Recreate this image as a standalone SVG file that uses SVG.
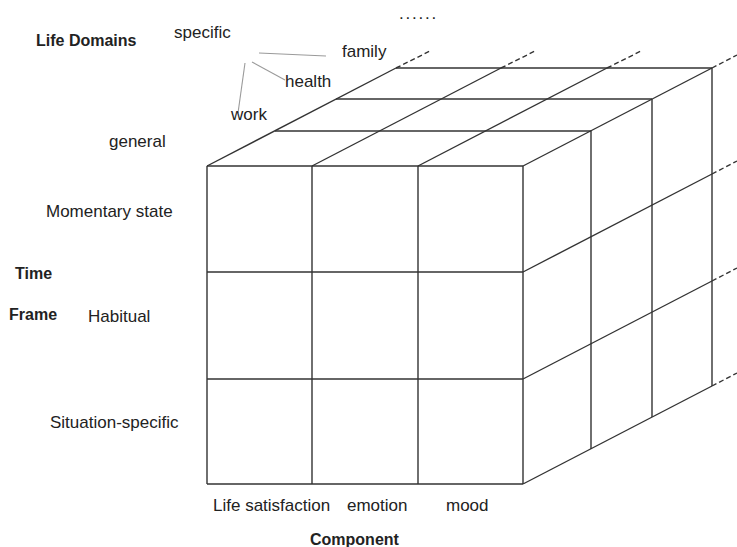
<svg xmlns="http://www.w3.org/2000/svg" width="737" height="547" viewBox="0 0 737 547">
  <style>
    .edge { stroke: #333; stroke-width: 1.4; fill: none; stroke-linecap: butt; }
    .dash { stroke: #333; stroke-width: 1.4; fill: none; stroke-dasharray: 5 3; }
    .lead { stroke: #9a9a9a; stroke-width: 1.1; fill: none; }
    text { font-family: "Liberation Sans", Arial, sans-serif; fill: #222; }
    .lbl { font-size: 17px; }
    .ttl { font-size: 16px; font-weight: bold; }
  </style>
  <rect width="737" height="547" fill="#fff"/>

  <!-- front face: 3 x 3 grid -->
  <g id="front-face" class="edge">
    <line x1="207" y1="166" x2="523" y2="166"/>
    <line x1="207" y1="272" x2="523" y2="272"/>
    <line x1="207" y1="379" x2="523" y2="379"/>
    <line x1="207" y1="484" x2="523" y2="484"/>
    <line x1="207" y1="166" x2="207" y2="484"/>
    <line x1="312" y1="166" x2="312" y2="484"/>
    <line x1="418" y1="166" x2="418" y2="484"/>
    <line x1="523" y1="166" x2="523" y2="484"/>
  </g>

  <!-- top face: receding rows -->
  <g id="top-face">
    <g class="edge">
      <line x1="275" y1="131" x2="591" y2="131"/>
      <line x1="336" y1="99" x2="652" y2="99"/>
      <line x1="396" y1="68" x2="712" y2="68"/>
      <line x1="207" y1="166" x2="396" y2="68"/>
      <line x1="312" y1="166" x2="501" y2="68"/>
      <line x1="418" y1="166" x2="607" y2="68"/>
      <line x1="523" y1="166" x2="712" y2="68"/>
    </g>
    <g class="dash">
      <line x1="396" y1="68" x2="430" y2="51"/>
      <line x1="501" y1="68" x2="535" y2="51"/>
      <line x1="607" y1="68" x2="641" y2="51"/>
      <line x1="712" y1="68" x2="737" y2="55"/>
    </g>
  </g>

  <!-- right face: receding columns -->
  <g id="right-face">
    <g class="edge">
      <line x1="591" y1="131" x2="591" y2="449"/>
      <line x1="652" y1="99" x2="652" y2="417"/>
      <line x1="712" y1="68" x2="712" y2="386"/>
      <line x1="523" y1="272" x2="712" y2="174"/>
      <line x1="523" y1="379" x2="712" y2="281"/>
      <line x1="523" y1="484" x2="712" y2="386"/>
    </g>
    <g class="dash">
      <line x1="712" y1="174" x2="737" y2="161"/>
      <line x1="712" y1="281" x2="737" y2="268"/>
      <line x1="712" y1="386" x2="737" y2="373"/>
    </g>
  </g>

  <!-- leaders from the specific domains -->
  <g id="connectors" class="lead">
    <line x1="259" y1="53" x2="326" y2="56"/>
    <line x1="252" y1="62" x2="285" y2="80"/>
    <line x1="245" y1="63" x2="238" y2="113"/>
  </g>

  <!-- life domain axis -->
  <g id="life-domains">
    <text class="ttl" x="36" y="46">Life Domains</text>
    <text class="lbl" x="174" y="38">specific</text>
    <text class="lbl" x="342" y="57">family</text>
    <text class="lbl" x="285" y="87">health</text>
    <text class="lbl" x="231" y="120">work</text>
    <text class="lbl" x="109" y="147">general</text>
    <text class="lbl" x="399" y="19" letter-spacing="1.8">......</text>
  </g>

  <!-- time frame axis -->
  <g id="time-frame">
    <text class="ttl" x="15" y="279">Time</text>
    <text class="ttl" x="9" y="320">Frame</text>
    <text class="lbl" x="46" y="217">Momentary state</text>
    <text class="lbl" x="88" y="322">Habitual</text>
    <text class="lbl" x="50" y="428">Situation-specific</text>
  </g>

  <!-- component axis -->
  <g id="component">
    <text class="lbl" x="213" y="511">Life satisfaction</text>
    <text class="lbl" x="347" y="511">emotion</text>
    <text class="lbl" x="446" y="511">mood</text>
    <text class="ttl" x="310" y="545">Component</text>
  </g>
</svg>
